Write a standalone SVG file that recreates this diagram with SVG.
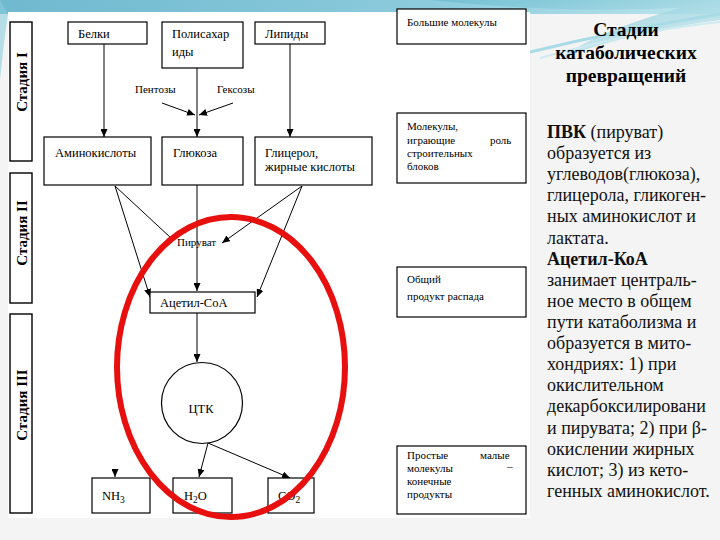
<svg xmlns="http://www.w3.org/2000/svg" width="720" height="540" viewBox="0 0 720 540">
<defs>
<linearGradient id="sky" x1="0" y1="0" x2="1" y2="0">
<stop offset="0" stop-color="#6fb9cf"/>
<stop offset="0.6" stop-color="#8ccbdc"/>
<stop offset="1" stop-color="#bfe6ee"/>
</linearGradient>
<linearGradient id="sw" x1="0" y1="0" x2="1" y2="1">
<stop offset="0" stop-color="#6bbdd0"/>
<stop offset="1" stop-color="#d8f0f4"/>
</linearGradient>
<marker id="ah" viewBox="0 0 8 7" refX="8" refY="3.5" markerWidth="8" markerHeight="7" markerUnits="userSpaceOnUse" orient="auto">
<path d="M0,0 L8,3.5 L0,7 z" fill="#000"/>
</marker>
<style>
text{font-family:'Liberation Serif','Times New Roman','DejaVu Serif',serif}
.box{fill:#fff;stroke:#000;stroke-width:1.2}
.stg{fill:#fff;stroke:#000;stroke-width:1.4}
.t{font-size:12.5px;fill:#000}
.s{font-size:11px;fill:#000}
.st{font-size:15px;font-weight:bold;fill:#000}
.ttl{font-size:19.5px;font-weight:bold;fill:#000}
.body{font-size:18px;fill:#111}
.ln{stroke:#000;stroke-width:1;fill:none}
.arr{stroke:#000;stroke-width:1;fill:none;marker-end:url(#ah)}
</style>
</defs>

<!-- background -->
<rect x="0" y="0" width="720" height="540" fill="#f4f4f4"/>
<rect x="0" y="0" width="720" height="14" fill="url(#sky)"/>
<path d="M0,0 L0,80 Q4,40 8,14 Z" fill="#8ccbdc" opacity="0.6"/>
<path d="M430,0 L720,0 L720,20 Q640,30 560,58 Q600,30 680,8 Q560,14 430,0 Z" fill="url(#sw)" opacity="0.8"/>
<path d="M530,52 Q620,30 720,14" stroke="#a8dbe5" stroke-width="3" fill="none"/>
<path d="M540,58 Q640,30 720,22" stroke="#cdebf1" stroke-width="2" fill="none"/>
<rect x="8" y="12" width="522" height="506" fill="#fff"/>

<!-- stage labels -->
<g id="stage1"><rect class="stg" x="10" y="22" width="22" height="139"/><text class="st" text-anchor="middle" transform="translate(27,82) rotate(-90)">Стадия I</text></g>
<g id="stage2"><rect class="stg" x="10" y="173" width="22" height="130"/><text class="st" text-anchor="middle" transform="translate(27,233) rotate(-90)">Стадия II</text></g>
<g id="stage3"><rect class="stg" x="10" y="314" width="22" height="199"/><text class="st" text-anchor="middle" transform="translate(27,405) rotate(-90)">Стадия III</text></g>

<!-- connectors -->
<g id="connectors">
<line class="arr" x1="104" y1="44" x2="104" y2="137"/>
<line class="arr" x1="197" y1="68" x2="197" y2="137"/>
<line class="arr" x1="290" y1="44" x2="290" y2="137"/>
<line class="arr" x1="162" y1="103" x2="195" y2="115"/>
<line class="arr" x1="233" y1="103" x2="199" y2="115"/>
<line class="ln" x1="115" y1="186" x2="171" y2="238"/>
<line class="arr" x1="115" y1="186" x2="150" y2="297"/>
<line class="arr" x1="197" y1="185" x2="197" y2="291"/>
<line class="arr" x1="302" y1="186" x2="222" y2="243"/>
<line class="arr" x1="302" y1="186" x2="257" y2="297"/>
<line class="arr" x1="197" y1="313" x2="197" y2="362"/>
<line class="arr" x1="208" y1="443" x2="199" y2="477"/>
<line class="arr" x1="208" y1="443" x2="290" y2="478"/>
<line class="arr" x1="115" y1="470" x2="115" y2="477"/>
</g>

<!-- nodes -->
<g id="belki"><rect class="box" x="68" y="22" width="79" height="22"/><text class="t" x="78" y="38">Белки</text></g>
<g id="polisaharidy"><rect class="box" x="162" y="22" width="81" height="46"/><text class="t" x="172" y="38">Полисахар</text><text class="t" x="172" y="56">иды</text></g>
<g id="lipidy"><rect class="box" x="255" y="22" width="70" height="22"/><text class="t" x="265" y="38">Липиды</text></g>
<g id="pentozy"><text class="s" x="135" y="93">Пентозы</text></g>
<g id="geksozy"><text class="s" x="217" y="93">Гексозы</text></g>
<g id="aminokisloty"><rect class="box" x="44" y="137" width="107" height="48"/><text class="t" x="55" y="157">Аминокислоты</text></g>
<g id="glukoza"><rect class="box" x="162" y="137" width="81" height="48"/><text class="t" x="173" y="157">Глюкоза</text></g>
<g id="glicerol"><rect class="box" x="255" y="137" width="117" height="48"/><text class="t" x="265" y="157">Глицерол,</text><text class="t" x="265" y="171">жирные кислоты</text></g>
<g id="piruvat"><text class="s" x="177" y="246">Пируват</text></g>
<g id="acetil"><rect class="box" x="150" y="292" width="105" height="21"/><text class="t" x="160" y="307">Ацетил-CoA</text></g>
<g id="ctk"><circle class="box" cx="202" cy="403" r="40.5"/><text class="t" x="201" y="413" text-anchor="middle">ЦТК</text></g>
<g id="nh3"><rect class="box" x="92" y="478" width="58" height="35"/><text class="t" x="102" y="500" font-size="13.5">NH<tspan font-size="9.5" dy="3">3</tspan></text></g>
<g id="h2o"><rect class="box" x="173" y="478" width="59" height="35"/><text class="t" x="184" y="500" font-size="13.5">H<tspan font-size="9.5" dy="3">2</tspan><tspan dy="-3">O</tspan></text></g>
<g id="co2"><rect class="box" x="268" y="478" width="46" height="35"/><text class="t" x="278" y="500" font-size="13.5">CO<tspan font-size="9.5" dy="3">2</tspan></text></g>

<!-- right legend boxes -->
<g id="bolshie"><rect class="box" x="397" y="9" width="129" height="35"/><text class="s" x="407" y="26">Большие молекулы</text></g>
<g id="stroitelnye"><rect class="box" x="397" y="113" width="129" height="70"/><text class="s" x="407" y="130">Молекулы,</text><text class="s" x="407" y="144">играющие</text><text class="s" x="490" y="144">роль</text><text class="s" x="407" y="157" font-size="10">строительных</text><text class="s" x="407" y="170">блоков</text></g>
<g id="obshiy"><rect class="box" x="397" y="267" width="129" height="50"/><text class="s" x="407" y="283">Общий</text><text class="s" x="407" y="300">продукт распада</text></g>
<g id="prostye"><rect class="box" x="397" y="446" width="129" height="68"/><text class="s" x="407" y="459" font-size="10.5">Простые</text><text class="s" x="480" y="459" font-size="10.5">малые</text><text class="s" x="407" y="472" font-size="10.5">молекулы</text><text class="s" x="507" y="470" font-size="10.5">–</text><text class="s" x="407" y="485" font-size="10.5">конечные</text><text class="s" x="407" y="498" font-size="10.5">продукты</text></g>

<!-- title and body text -->
<g id="title">
<text class="ttl" x="626" y="36" text-anchor="middle">Стадии</text>
<text class="ttl" x="626" y="59" text-anchor="middle">катаболических</text>
<text class="ttl" x="626" y="82" text-anchor="middle">превращений</text>
</g>
<g id="body">
<text class="body" x="547" y="138"><tspan font-weight="bold">ПВК</tspan> (пируват)</text>
<text class="body" x="547" y="159">образуется из</text>
<text class="body" x="547" y="180">углеводов(глюкоза),</text>
<text class="body" x="547" y="201">глицерола, гликоген-</text>
<text class="body" x="547" y="222">ных аминокислот и</text>
<text class="body" x="547" y="244">лактата.</text>
<text class="body" x="547" y="265" font-weight="bold">Ацетил-КоА</text>
<text class="body" x="547" y="286">занимает централь-</text>
<text class="body" x="547" y="307">ное место в общем</text>
<text class="body" x="547" y="328">пути катаболизма и</text>
<text class="body" x="547" y="349">образуется в мито-</text>
<text class="body" x="547" y="370">хондриях: 1) при</text>
<text class="body" x="547" y="391">окислительном</text>
<text class="body" x="547" y="412">декарбоксилировани</text>
<text class="body" x="547" y="434">и пирувата; 2) при β-</text>
<text class="body" x="547" y="455">окислении жирных</text>
<text class="body" x="547" y="476">кислот; 3) из кето-</text>
<text class="body" x="547" y="497">генных аминокислот.</text>
</g>

<!-- red highlight -->
<ellipse cx="231" cy="367" rx="114" ry="150" fill="none" stroke="#e8100e" stroke-width="6"/>
</svg>
